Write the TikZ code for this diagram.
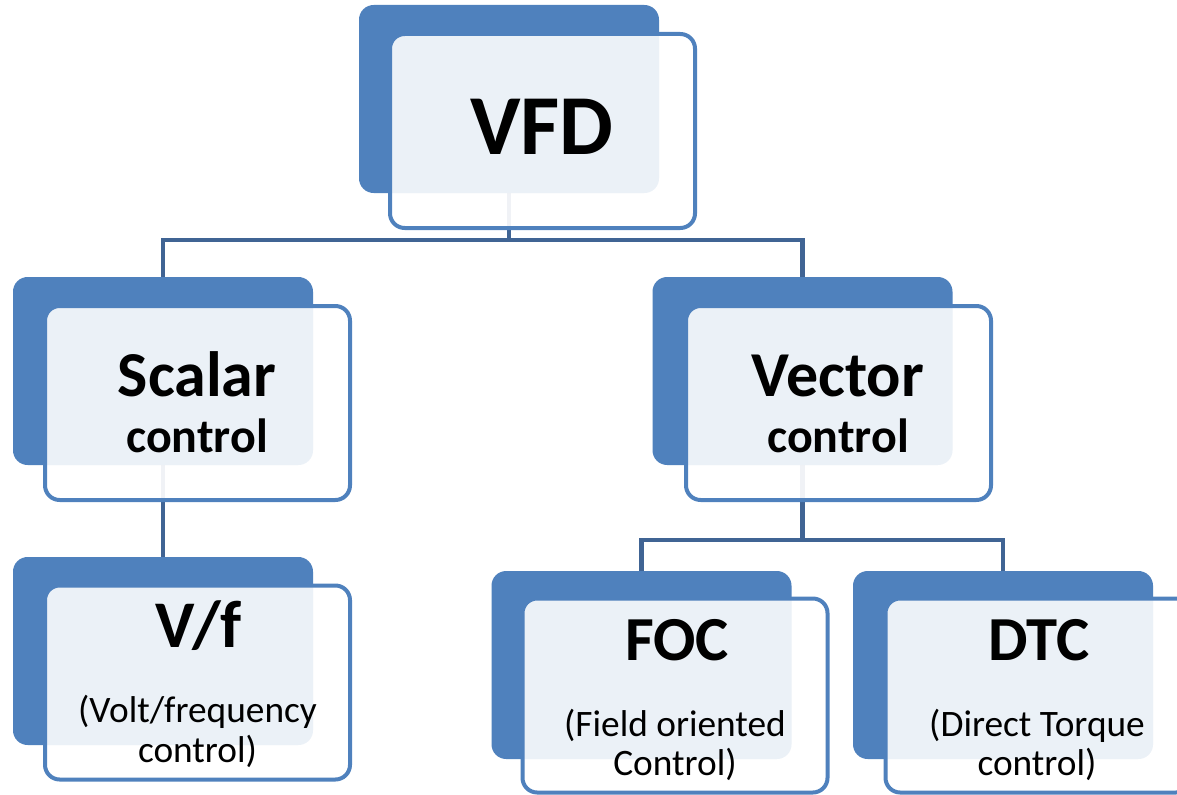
\documentclass[tikz,border=0pt]{standalone}
\usepackage{fontspec}
\setmainfont{Carlito}

\definecolor{boxblue}{RGB}{79,129,189}
\definecolor{lineblue}{RGB}{64,100,148}

\tikzset{
  backbox/.style={draw=none,fill=boxblue,rounded corners=11pt,minimum width=225pt,minimum height=141pt,inner sep=0pt},
  frontbox/.style={draw=boxblue,line width=3pt,fill=white,fill opacity=0.92,rounded corners=11pt,minimum width=228.75pt,minimum height=145.5pt,inner sep=0pt},
  tintbox/.style={draw=none,fill=boxblue,fill opacity=0.03,rounded corners=11pt,minimum width=225pt,minimum height=141pt,inner sep=0pt},
  link/.style={draw=lineblue,line width=3.2pt},
  bigtext/.style={anchor=base,font=\bfseries\fontsize{64}{64}\selectfont},
  midtext/.style={anchor=base,font=\bfseries\fontsize{48}{48}\selectfont},
  subtext/.style={anchor=base,font=\bfseries\fontsize{36}{36}\selectfont},
  leaftext/.style={anchor=base,font=\bfseries\fontsize{47}{47}\selectfont},
  notetext/.style={anchor=base,font=\fontsize{28}{28}\selectfont}
}

\begin{document}
\begin{tikzpicture}[x=0.75pt,y=0.75pt,yscale=-1,xscale=1]
\useasboundingbox (0,0) rectangle (1177,795);

%Back boxes
\node [backbox] (vfdb) at (509,99) {};
\node [backbox] (scalarb) at (163,371) {};
\node [backbox] (vectorb) at (802.5,371) {};
\node [backbox] (vfb) at (163,651) {};
\node [backbox] (focb) at (641.5,665) {};
\node [backbox] (dtcb) at (1003,665) {};

%Connectors
\coordinate (vfdbar) at (509,240);
\coordinate (vectorbar) at (802.5,540);
\draw [link] (vfdb.south) -- (vfdbar) -| (scalarb.north);
\draw [link] (vfdbar) -| (vectorb.north);
\draw [link] (scalarb.south) -- (vfb.north);
\draw [link] (vectorb.south) -- (vectorbar) -| (focb.north);
\draw [link] (vectorbar) -| (dtcb.north);

%Front boxes
\node [frontbox] (vfdf) at (542.5,131) {};
\node [frontbox] (scalarf) at (197.5,403) {};
\node [frontbox] (vectorf) at (838.5,403) {};
\node [frontbox] (vff) at (197.5,682.5) {};
\node [frontbox] (focf) at (675,695.5) {};
\node [frontbox] (dtcf) at (1038,695.5) {};

%Overlap tint
\node [tintbox] at (vfdb) {};
\node [tintbox] at (scalarb) {};
\node [tintbox] at (vectorb) {};
\node [tintbox] at (vfb) {};
\node [tintbox] at (focb) {};
\node [tintbox] at (dtcb) {};

% Text Node
\node [bigtext] (vfdt) at (542,155) {VFD};
% Text Node
\node [midtext] (scalart) at (197,396) {Scalar};
\node [subtext] (scalarc) at (197,452) {control};
% Text Node
\node [midtext] (vectort) at (838,396) {Vector};
\node [subtext] (vectorc) at (838,452) {control};
% Text Node
\node [leaftext,font=\bfseries\fontsize{50}{50}\selectfont] (vft) at (199,647) {V/f};
\node [notetext] (vfa) at (197.5,722) {(Volt/frequency};
\node [notetext] (vfc) at (197.5,762) {control)};
% Text Node
\node [leaftext] (foct) at (677,660) {FOC};
\node [notetext] (foca) at (675,736) {(Field oriented};
\node [notetext] (focc) at (675,775) {Control)};
% Text Node
\node [leaftext] (dtct) at (1039,660) {DTC};
\node [notetext] (dtca) at (1037,736) {(Direct Torque};
\node [notetext] (dtcc) at (1037,775) {control)};

\end{tikzpicture}
\end{document}
